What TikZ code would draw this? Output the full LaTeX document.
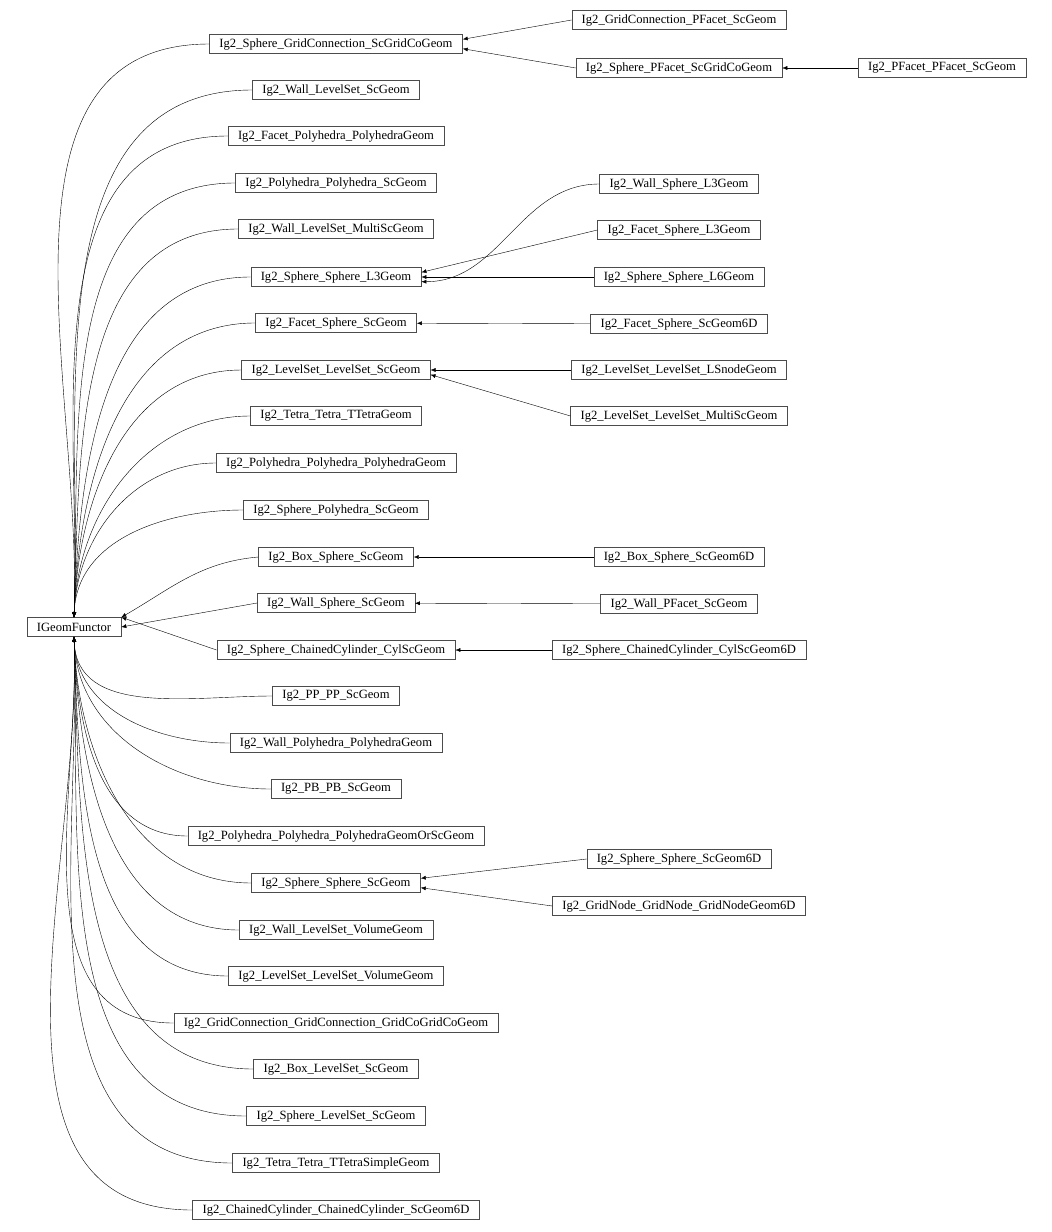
\documentclass[tikz,border=0pt]{standalone}
\usepackage{fontspec}
\setmainfont{Liberation Serif}
\usetikzlibrary{arrows.meta}
\begin{document}
\begin{tikzpicture}[x=1pt,y=-1pt,
    cls/.style={draw=black!70, rectangle, inner xsep=10pt, inner ysep=0pt, minimum height=19pt, font=\fontsize{12.6}{14}\selectfont},
    inh/.style={-{Latex[length=5pt,width=4pt]}, black}]
    \useasboundingbox (0,0) rectangle (1052,1232);

    % Base class
    \node[cls] (base) at (74,627) {IGeomFunctor};

    % Direct children
    \foreach \n/\y/\t in {
      c1/44/Ig2\_Sphere\_GridConnection\_ScGridCoGeom,
      c2/90/Ig2\_Wall\_LevelSet\_ScGeom,
      c3/136/Ig2\_Facet\_Polyhedra\_PolyhedraGeom,
      c4/183/Ig2\_Polyhedra\_Polyhedra\_ScGeom,
      c5/229/Ig2\_Wall\_LevelSet\_MultiScGeom,
      c6/277/Ig2\_Sphere\_Sphere\_L3Geom,
      c7/323/Ig2\_Facet\_Sphere\_ScGeom,
      c8/370/Ig2\_LevelSet\_LevelSet\_ScGeom,
      c9/416/Ig2\_Tetra\_Tetra\_TTetraGeom,
      c10/463/Ig2\_Polyhedra\_Polyhedra\_PolyhedraGeom,
      c11/510/Ig2\_Sphere\_Polyhedra\_ScGeom,
      c12/557/Ig2\_Box\_Sphere\_ScGeom,
      c13/603/Ig2\_Wall\_Sphere\_ScGeom,
      c14/650/Ig2\_Sphere\_ChainedCylinder\_CylScGeom,
      c15/696/Ig2\_PP\_PP\_ScGeom,
      c16/743/Ig2\_Wall\_Polyhedra\_PolyhedraGeom,
      c17/789/Ig2\_PB\_PB\_ScGeom,
      c18/836/Ig2\_Polyhedra\_Polyhedra\_PolyhedraGeomOrScGeom,
      c19/883/Ig2\_Sphere\_Sphere\_ScGeom,
      c20/930/Ig2\_Wall\_LevelSet\_VolumeGeom,
      c21/976/Ig2\_LevelSet\_LevelSet\_VolumeGeom,
      c22/1023/Ig2\_GridConnection\_GridConnection\_GridCoGridCoGeom,
      c23/1069/Ig2\_Box\_LevelSet\_ScGeom,
      c24/1116/Ig2\_Sphere\_LevelSet\_ScGeom,
      c25/1163/Ig2\_Tetra\_Tetra\_TTetraSimpleGeom,
      c26/1210/Ig2\_ChainedCylinder\_ChainedCylinder\_ScGeom6D}
      \node[cls] (\n) at (336,\y) {\t};

    % Arrows to base
    \foreach \n in {c1,c2,c3,c4,c5,c6,c7,c8,c9,c10,c11}
      \draw[inh] (\n.west) to[out=180,in=88] (base.north);
    \draw[inh] (c12.west) to[out=185,in=30] (base.north east);
    \draw[inh] (c13.west) -- (base.east);
    \draw[inh] (c14.west) -- (base.north east);
    \foreach \n in {c15,c16,c17,c18,c19,c20,c21,c22,c23,c24,c25,c26}
      \draw[inh] (\n.west) to[out=180,in=-88] (base.south);

    % Second level
    \node[cls] (g1) at (679,20) {Ig2\_GridConnection\_PFacet\_ScGeom};
    \node[cls] (g2) at (679,68) {Ig2\_Sphere\_PFacet\_ScGridCoGeom};
    \node[cls] (g3) at (942,68) {Ig2\_PFacet\_PFacet\_ScGeom};
    \node[cls] (l1) at (679,184) {Ig2\_Wall\_Sphere\_L3Geom};
    \node[cls] (l2) at (679,230) {Ig2\_Facet\_Sphere\_L3Geom};
    \node[cls] (l3) at (679,277) {Ig2\_Sphere\_Sphere\_L6Geom};
    \node[cls] (f1) at (679,324) {Ig2\_Facet\_Sphere\_ScGeom6D};
    \node[cls] (s1) at (679,370) {Ig2\_LevelSet\_LevelSet\_LSnodeGeom};
    \node[cls] (s2) at (679,416) {Ig2\_LevelSet\_LevelSet\_MultiScGeom};
    \node[cls] (b1) at (679,557) {Ig2\_Box\_Sphere\_ScGeom6D};
    \node[cls] (w1) at (679,604) {Ig2\_Wall\_PFacet\_ScGeom};
    \node[cls] (h1) at (679,650) {Ig2\_Sphere\_ChainedCylinder\_CylScGeom6D};
    \node[cls] (p1) at (679,859) {Ig2\_Sphere\_Sphere\_ScGeom6D};
    \node[cls] (p2) at (679,906) {Ig2\_GridNode\_GridNode\_GridNodeGeom6D};

    % Arrows
    \draw[inh] (g1.west) -- ([yshift=-5pt]c1.north east);
    \draw[inh] (g2.west) -- ([yshift=5pt]c1.south east);
    \draw[inh] (g3) -- (g2);
    \draw[inh] (l1.west) to[out=180,in=0] ([yshift=5pt]c6.south east);
    \draw[inh] (l2.west) -- ([yshift=-5pt]c6.north east);
    \draw[inh] (l3) -- (c6);
    \draw[inh] (f1) -- (c7);
    \draw[inh] (s1) -- (c8);
    \draw[inh] (s2.west) -- ([yshift=5pt]c8.south east);
    \draw[inh] (b1) -- (c12);
    \draw[inh] (w1) -- (c13);
    \draw[inh] (h1) -- (c14);
    \draw[inh] (p1.west) -- ([yshift=-5pt]c19.north east);
    \draw[inh] (p2.west) -- ([yshift=5pt]c19.south east);
\end{tikzpicture}
\end{document}
